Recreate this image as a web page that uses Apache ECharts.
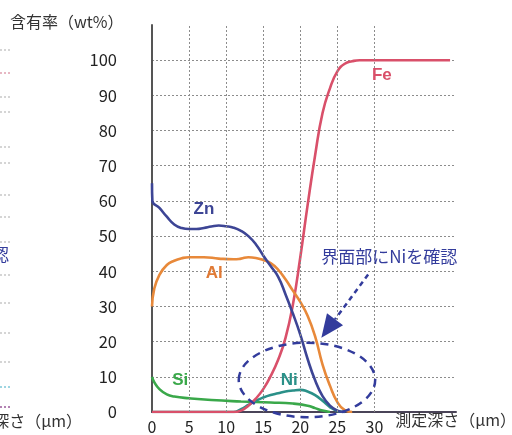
<!DOCTYPE html>
<html>
<head>
<meta charset="utf-8">
<script src="https://cdn.jsdelivr.net/npm/echarts@6/dist/echarts.min.js"></script>
<style>
html,body{margin:0;padding:0;background:#fff;}
#main{width:512px;height:435px;}
</style>
</head>
<body>
<div id="main"></div>
<script>
// ---- data (depth µm, content wt%) ----
const xTicks = [0, 5, 10, 15, 20, 25, 30];
const yTicks = [0, 10, 20, 30, 40, 50, 60, 70, 80, 90, 100];

const znData = [[0,65],[0.05,60],[1,58],[2,55.5],[3,53.3],[4,52.3],[5,52],[6,52],[7,52.3],[8,52.7],[9,53],[10,52.8],[11,52.4],[12,51.5],[13,50],[14,47.7],[15,44.5],[16,41.5],[17,38.5],[18,33.5],[19,28],[20,22],[21,15],[22,9],[23,4.5],[24,1.8],[25,0.4],[26,0]];
const alData = [[0,30],[0.3,35],[1,39],[2,41.8],[3,43],[4,43.7],[5,44],[7,44],[9,43.6],[11,43.4],[12,43.6],[13,44],[14,43.8],[15,43.2],[16,42.3],[17,40.5],[18,37.7],[19,34.5],[20,31.3],[21,27.3],[22,21.5],[23,13.5],[24,7.5],[25,2.8],[26,0.5],[27,0]];
const feData = [[0,0],[4,0],[8,0],[11,0],[12,0.4],[13,1.8],[14,3.8],[15,6.5],[16,10.2],[17,14.8],[18,21],[19,30.5],[20,44],[21,59],[22,73],[23,85],[24,92],[25,96.8],[26,99],[27,99.7],[28,100],[31,100],[35,100],[40.2,100]];
const siData = [[0,10],[0.3,8.5],[1,6.5],[2,5],[3,4.4],[5,3.9],[8,3.4],[12,3],[16,2.7],[19,2.4],[21,1.8],[22,1.1],[23,0.4],[24,0]];
const niData = [[0,0],[4,0],[8,0],[11,0],[12,0.8],[13,2],[14,3.2],[15,4.1],[16,4.8],[17,5.3],[18,5.8],[19,6.1],[20,6.3],[21,5.8],[22,4.8],[23,3.2],[24,1.4],[25,0.3],[26,0]];

// labels placed in data units
const seriesLabels = [
  {text: 'Fe', at: [31.0, 95.8], color: '#d9506a'},
  {text: 'Zn', at: [7.0, 57.7], color: '#3d4595'},
  {text: 'Al', at: [8.4, 39.4], color: '#e07a35'},
  {text: 'Si', at: [3.8, 9.1], color: '#3aa84a'},
  {text: 'Ni', at: [18.5, 9.1], color: '#2a9088'}
];
const noteText = '界面部にNiを確認';
const noteAt = [32.0, 44.2];
const arrowFrom = [29.15, 39.1];
const arrowTo = [22.84, 21.1];
const ellipseCenter = [20.9, 9.1];
const ellipseRadii = [9.2, 10.6];

const FONT = '"Noto Sans CJK JP", "Noto Sans", sans-serif';
const NAVY = '#333c9c';
const gridStyle = {color: '#8c8c8c', width: 1, type: [2, 2]};

const chart = echarts.init(document.getElementById('main'));

function line(name, data, color) {
  return {
    name, type: 'line', data, smooth: 0.5,
    showSymbol: false, symbol: 'none', silent: true,
    lineStyle: {color, width: 2.6}, z: 3
  };
}

chart.setOption({
  animation: false,
  backgroundColor: '#fff',
  grid: {left: 152, right: 56, top: 25, bottom: 23, containLabel: false},
  xAxis: {
    type: 'value', min: 0, max: 41, interval: 5,
    axisLine: {show: true, lineStyle: {color: '#4a4458', width: 2}},
    axisTick: {show: false},
    splitLine: {show: false},
    axisLabel: {
      margin: 7, fontSize: 16, color: '#222', fontFamily: FONT,
      formatter: v => (xTicks.indexOf(v) >= 0 ? String(v) : '')
    }
  },
  yAxis: {
    type: 'value', min: 0, max: 110, interval: 10,
    axisLine: {show: true, lineStyle: {color: '#555', width: 2}},
    axisTick: {show: false},
    splitLine: {show: true, showMaxLine: false, showMinLine: false, lineStyle: gridStyle},
    axisLabel: {
      margin: 35, fontSize: 16.5, color: '#222', fontFamily: FONT, showMaxLabel: false,
      formatter: v => (yTicks.indexOf(v) >= 0 ? String(v) : '')
    }
  },
  series: [
    {
      type: 'line', data: [], silent: true,
      markLine: {
        silent: true, symbol: 'none', label: {show: false},
        lineStyle: gridStyle,
        data: xTicks.slice(1).map(v => ({xAxis: v}))
      }
    },
    line('Si', siData, '#3aa84a'),
    line('Ni', niData, '#2a9088'),
    line('Fe', feData, '#d9506a'),
    line('Al', alData, '#e8893a'),
    line('Zn', znData, '#3d4595')
  ]
});

function px(p) { return chart.convertToPixel({gridIndex: 0}, p); }

const g = [];
// series labels
seriesLabels.forEach(l => {
  const p = px(l.at);
  g.push({type: 'text', x: p[0], y: p[1], z: 10,
    style: {text: l.text, fill: l.color, font: 'bold 17px Arial, "Liberation Sans", sans-serif', textAlign: 'center', textVerticalAlign: 'middle'}});
});
// ellipse
const c = px(ellipseCenter);
const cx2 = px([ellipseCenter[0] + ellipseRadii[0], ellipseCenter[1] + ellipseRadii[1]]);
g.push({type: 'ellipse', z: 11, shape: {cx: c[0], cy: c[1], rx: Math.abs(cx2[0] - c[0]), ry: Math.abs(cx2[1] - c[1])},
  style: {fill: 'none', stroke: NAVY, lineWidth: 2.5, lineDash: [8, 6]}});
// arrow
const a0 = px(arrowFrom), a1 = px(arrowTo);
const dx = a1[0] - a0[0], dy = a1[1] - a0[1];
const len = Math.sqrt(dx * dx + dy * dy);
const ux = dx / len, uy = dy / len;
const headL = 23, headW = 10;
const bx = a1[0] - ux * headL, by = a1[1] - uy * headL;
g.push({type: 'line', z: 11, shape: {x1: a0[0], y1: a0[1], x2: bx, y2: by},
  style: {stroke: NAVY, lineWidth: 2.5, lineDash: [5, 4]}});
g.push({type: 'polygon', z: 11, shape: {points: [[a1[0], a1[1]], [bx - uy * headW, by + ux * headW], [bx + uy * headW, by - ux * headW]]},
  style: {fill: NAVY}});
// note text
const n = px(noteAt);
g.push({type: 'text', x: n[0], y: n[1], z: 12,
  style: {text: noteText, fill: NAVY, font: '17px ' + FONT, textAlign: 'center', textVerticalAlign: 'middle'}});
// titles
g.push({type: 'text', x: 10, y: 22, z: 12,
  style: {text: '含有率（wt%）', fill: '#333', font: '16px ' + FONT, textAlign: 'left', textVerticalAlign: 'middle'}});
g.push({type: 'text', x: 516, y: 420, z: 12,
  style: {text: '測定深さ（μm）', fill: '#333', font: '16px ' + FONT, textAlign: 'right', textVerticalAlign: 'middle'}});
// left-edge remnant of the neighbouring figure
g.push({type: 'text', x: 82, y: 421, z: 12,
  style: {text: '測定深さ（μm）', fill: '#333', font: '16px ' + FONT, textAlign: 'right', textVerticalAlign: 'middle'}});
g.push({type: 'text', x: 9, y: 255, z: 12,
  style: {text: '認', fill: NAVY, font: '17px ' + FONT, textAlign: 'right', textVerticalAlign: 'middle'}});
[50, 73, 97, 112, 147, 163, 195, 217, 242, 275, 303, 333, 362, 387, 407].forEach((y, i) => {
  g.push({type: 'line', z: 1, shape: {x1: 0, y1: y, x2: 12, y2: y},
    style: {stroke: i === 1 ? '#e0a0b0' : (i === 13 ? '#7fc8d8' : (i === 14 ? '#9a5a9a' : '#c8c8c8')), lineWidth: 1.5, lineDash: [2, 2]}});
});
chart.setOption({graphic: g});
</script>
</body>
</html>
